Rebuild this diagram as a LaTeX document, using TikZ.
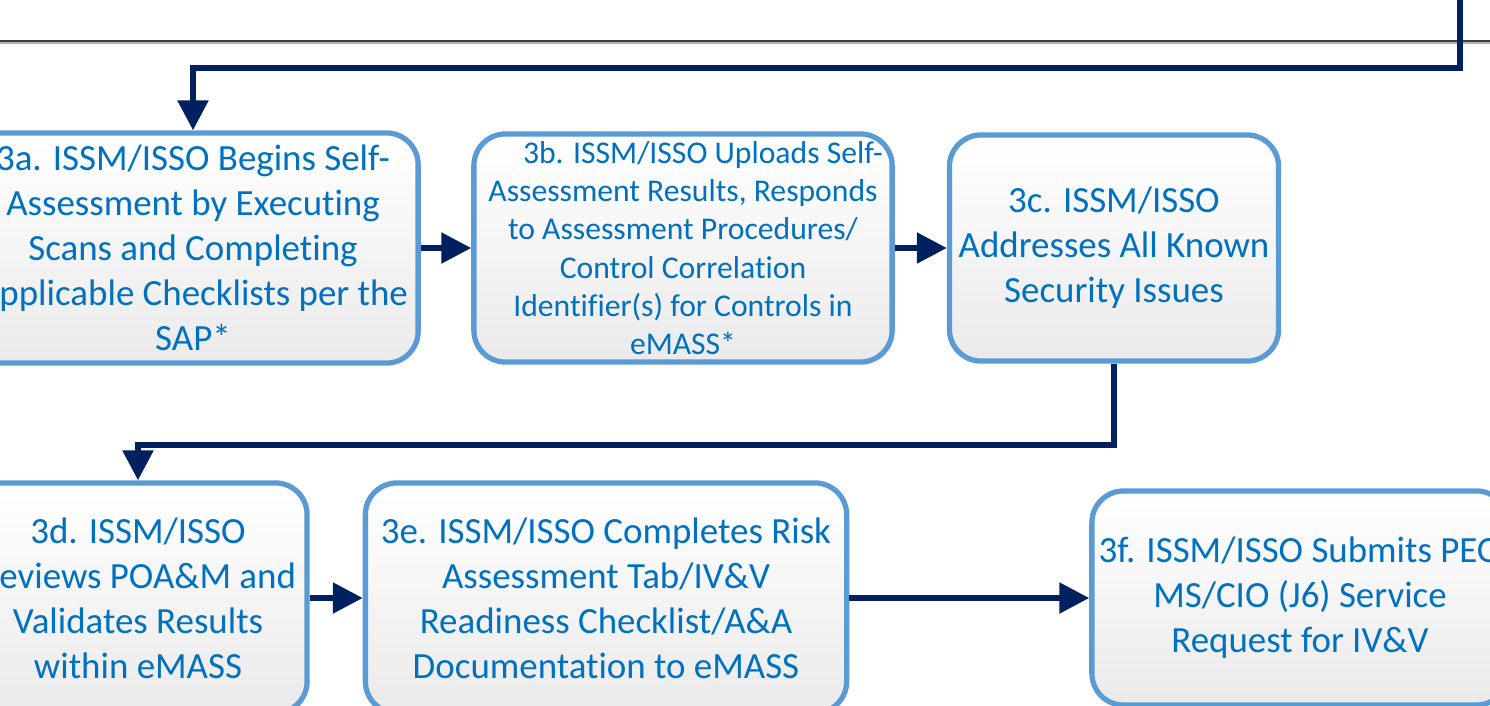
\documentclass[tikz,border=0pt]{standalone}
\usepackage{fontspec}
\setmainfont{Carlito}[Ligatures=NoCommon]
\usepackage{xcolor}
\usepackage{tikz}
\usetikzlibrary{shapes,arrows,positioning,calc,arrows.meta}

\definecolor{boxblue}{HTML}{5B9BD5}
\definecolor{txtblue}{HTML}{0070C0}
\definecolor{navy}{HTML}{002060}
\definecolor{boxgray}{HTML}{EAEAEA}

\begin{document}
\begin{tikzpicture}[x=0.01cm, y=-0.01cm,
    stepbox/.style={draw=boxblue, line width=1.5pt, rounded corners=9pt,
        top color=white, bottom color=boxgray, align=center, text=txtblue,
        inner sep=0pt, font=\fontsize{10.5}{12.8}\selectfont},
    smallbox/.style={stepbox, font=\fontsize{9}{10.9}\selectfont},
    flow/.style={draw=navy, line width=1.6pt, -{Triangle[length=8.5pt,width=8.5pt]}}]
    \useasboundingbox (0,0) rectangle (1490,705);
    \clip (0,0) rectangle (1490,705);

    % Page rule
    \draw[gray!60, line width=0.6pt] (0,43) -- (1490,43);
    \draw[black!75, line width=0.6pt] (0,41) -- (1490,41);

    % Upper row
    \node[stepbox, minimum width=4.5cm, minimum height=2.3cm] (a) at (193,248)
        {3a. ISSM/ISSO Begins Self-\\Assessment by Executing\\Scans and Completing\\Applicable Checklists per the\\SAP*};
    \node[smallbox, minimum width=4.18cm, minimum height=2.28cm] (b) at (683,248)
        {\hspace*{0.4cm}3b. ISSM/ISSO Uploads Self-\\Assessment Results, Responds\\to Assessment Procedures/\\Control Correlation\\Identifier(s) for Controls in\\eMASS*};
    \node[stepbox, minimum width=3.29cm, minimum height=2.26cm] (c) at (1114,248)
        {3c. ISSM/ISSO\\Addresses All Known\\Security Issues};

    % Lower row
    \node[stepbox, minimum width=3.38cm, minimum height=2.3cm] (d) at (138,598)
        {3d. ISSM/ISSO\\Reviews POA\&M and\\Validates Results\\within eMASS};
    \node[stepbox, minimum width=4.81cm, minimum height=2.3cm] (e) at (606,598)
        {3e. ISSM/ISSO Completes Risk\\Assessment Tab/IV\&V\\Readiness Checklist/A\&A\\Documentation to eMASS};
    \node[stepbox, minimum width=4.16cm, minimum height=2.14cm] (f) at (1300,598)
        {3f. ISSM/ISSO Submits PEO\\MS/CIO (J6) Service\\Request for IV\&V};

    % Connectors
    \coordinate (in) at (1460,-20);
    \coordinate (topknee) at (0,68);
    \coordinate (midknee) at (0,445);
    \draw[flow] (in) -- (in |- topknee) -| (a.north);
    \draw[flow] (a) -- (b);
    \draw[flow] (b) -- (c);
    \draw[flow] (c.south) -- (c.south |- midknee) -| (d.north);
    \draw[flow] (d) -- (e);
    \draw[flow] (e) -- (f);
\end{tikzpicture}
\end{document}
